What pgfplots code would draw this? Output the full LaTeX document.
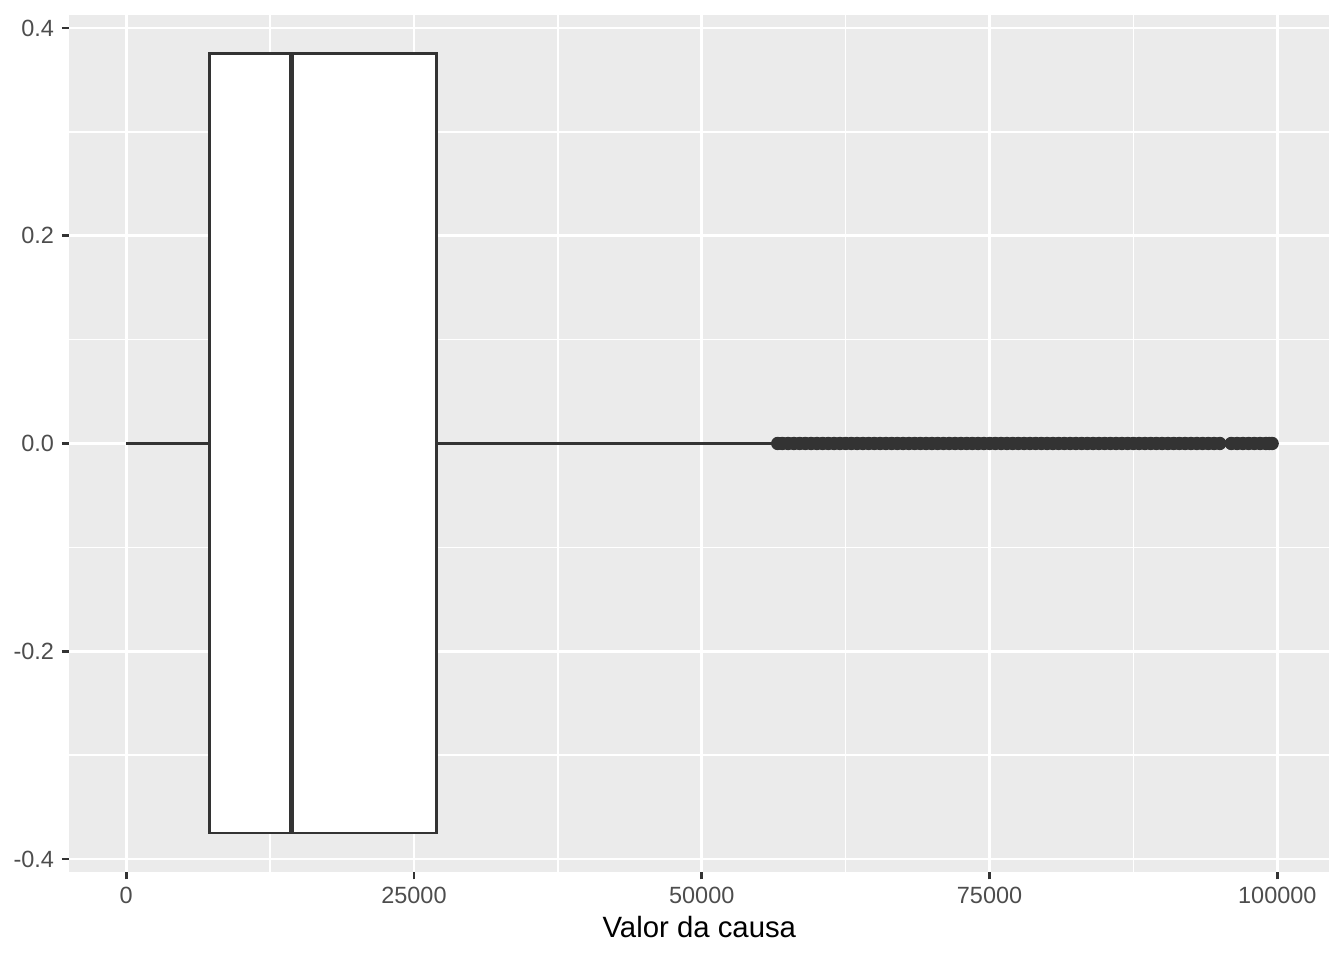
\documentclass[border=0pt]{standalone}
\usepackage{pgfplots}
\pgfplotsset{compat=1.18}
\usepackage{fontspec}
\setmainfont{Liberation Sans}
\definecolor{panelbg}{HTML}{EBEBEB}
\definecolor{g20}{HTML}{333333}
\definecolor{g30}{HTML}{4D4D4D}
\begin{document}
\begin{tikzpicture}
\useasboundingbox (0,0) rectangle (504pt,360pt);
\begin{axis}[
 at={(25.95pt,33pt)}, anchor=south west,
 scale only axis, width=472.6pt, height=321.4pt,
 xmin=-4950, xmax=104530, ymin=-0.4125, ymax=0.4125,
 axis background/.style={fill=panelbg},
 axis line style={draw=none},
 xtick={0,25000,50000,75000,100000}, xticklabels={0,25000,50000,75000,100000},
 ytick={-0.4,-0.2,0,0.2,0.4}, yticklabels={-0.4,-0.2,0.0,0.2,0.4},
 minor xtick={12500,37500,62500,87500}, minor ytick={-0.3,-0.1,0.1,0.3},
 grid=both, major grid style={white, line width=1.07pt}, minor grid style={white,line width=0.53pt},
 tick pos=left, tick align=outside, major tick length=2.75pt, minor tick length=0pt,
 tick style={g20, line width=1.07pt},
 ticklabel style={font=\fontsize{8.8}{10}\selectfont, text=g30},
 xticklabel style={yshift=0.7pt},
 yticklabel style={xshift=0.6pt},
 scaled x ticks=false, scaled y ticks=false,
 xlabel={Valor da causa}, xlabel style={font=\fontsize{11}{13}\selectfont, text=black, yshift=2.2pt},
]
\addplot[draw=g20, line width=1.07pt] coordinates {(0,0) (7217,0)};
\addplot[draw=g20, line width=1.07pt] coordinates {(26957,0) (56500,0)};
\addplot[draw=g20, fill=white, line width=1.07pt] coordinates {(7217,-0.375) (26957,-0.375) (26957,0.375) (7217,0.375)} -- cycle;
\addplot[draw=g20, line width=2.13pt] coordinates {(14348,-0.375) (14348,0.375)};
\addplot[only marks, mark=*, mark size=2.3pt, mark options={draw=g20, fill=g20}] coordinates {
(56600,0) (57000,0) (57500,0) (58000,0) (58500,0) (59000,0) (59500,0) (60000,0) (60500,0) (61000,0)
(61500,0) (62000,0) (62500,0) (63000,0) (63500,0) (64000,0) (64500,0) (65000,0) (65500,0) (66000,0)
(66500,0) (67000,0) (67500,0) (68000,0) (68500,0) (69000,0) (69500,0) (70000,0) (70500,0) (71000,0)
(71500,0) (72000,0) (72500,0) (73000,0) (73500,0) (74000,0) (74500,0) (75000,0) (75500,0) (76000,0)
(76500,0) (77000,0) (77500,0) (78000,0) (78500,0) (79000,0) (79500,0) (80000,0) (80500,0) (81000,0)
(81500,0) (82000,0) (82500,0) (83000,0) (83500,0) (84000,0) (84500,0) (85000,0) (85500,0) (86000,0)
(86500,0) (87000,0) (87500,0) (88000,0) (88500,0) (89000,0) (89500,0) (90000,0) (90500,0) (91000,0)
(91500,0) (92000,0) (92500,0) (93000,0) (93500,0) (94000,0) (94500,0) (95000,0) (96000,0) (96500,0)
(97000,0) (97500,0) (98000,0) (98500,0) (99000,0) (99300,0) (99550,0)
};
\end{axis}
\end{tikzpicture}
\end{document}
